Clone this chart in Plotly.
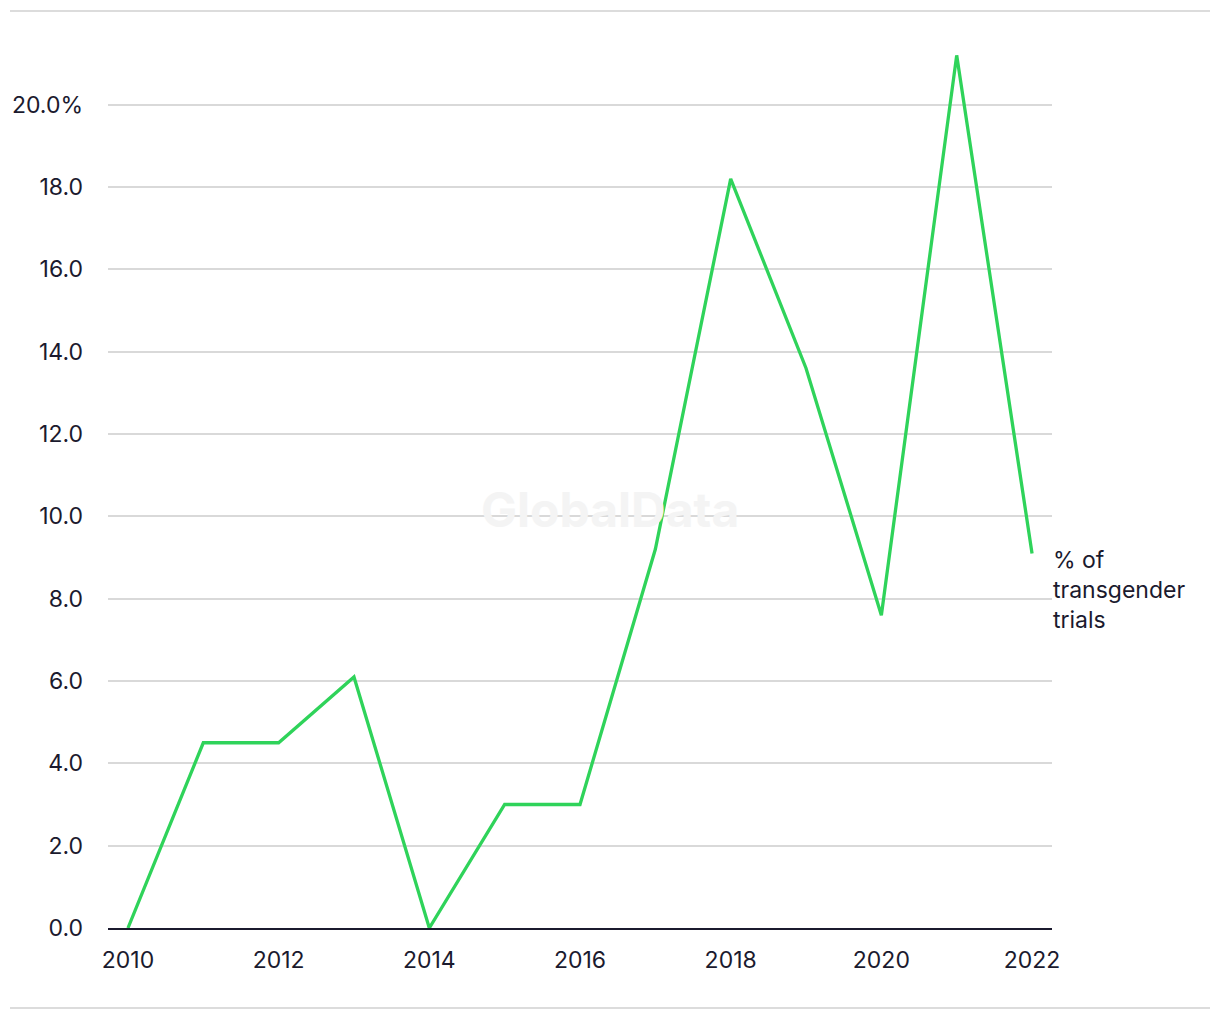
import plotly.graph_objects as go

years = [2010, 2011, 2012, 2013, 2014, 2015, 2016, 2017, 2018, 2019, 2020, 2021, 2022]
pct_transgender = [0.0, 4.5, 4.5, 6.1, 0.0, 3.0, 3.0, 9.2, 18.2, 13.6, 7.6, 21.2, 9.1]
y_tickvals = [0, 2, 4, 6, 8, 10, 12, 14, 16, 18, 20]
y_ticktext = ["0.0", "2.0", "4.0", "6.0", "8.0", "10.0", "12.0", "14.0", "16.0", "18.0", "20.0%"]
x_tickvals = [2010, 2012, 2014, 2016, 2018, 2020, 2022]
series_label = "% of<br>transgender<br>trials"

TEXT = "#1b1a2e"
FONT = "Inter, Liberation Sans, sans-serif"

fig = go.Figure()
fig.add_trace(go.Scatter(
    x=years, y=pct_transgender, mode="lines",
    line=dict(color="#2fd35a", width=3.3),
    showlegend=False, hoverinfo="skip",
))

fig.update_layout(
    width=1220, height=1020,
    margin=dict(l=108, r=168, t=43, b=92),
    paper_bgcolor="white", plot_bgcolor="white",
    font=dict(family=FONT, size=23, color=TEXT),
    xaxis=dict(
        range=[2009.735, 2022.265], tickvals=x_tickvals,
        showgrid=False, zeroline=False,
        showline=True, linecolor=TEXT, linewidth=2,
        ticks="", ticklabelstandoff=10,
        tickfont=dict(size=23, color=TEXT),
    ),
    yaxis=dict(
        range=[0, 21.5], tickvals=y_tickvals, ticktext=y_ticktext,
        showgrid=True, gridcolor="#d9d9d9", gridwidth=1.5,
        zeroline=False, showline=False, ticks="",
        ticklabelstandoff=24,
        tickfont=dict(size=23, color=TEXT),
    ),
    shapes=[
        dict(type="line", xref="paper", yref="paper", x0=-0.1038, x1=1.1674, y0=1.0362, y1=1.0362,
             line=dict(color="#dcdcdc", width=2)),
        dict(type="line", xref="paper", yref="paper", x0=-0.1038, x1=1.1674, y0=-0.0904, y1=-0.0904,
             line=dict(color="#dcdcdc", width=2)),
    ],
    annotations=[
        dict(text="GlobalData", xref="paper", yref="paper", x=0.532, y=0.473,
             showarrow=False, font=dict(family=FONT, size=48, color="#f4f4f4", weight="bold")),
        dict(text=series_label, xref="paper", yref="y", x=1.0, y=8.22,
             xanchor="left", yanchor="middle", align="left", showarrow=False, xshift=-1,
             font=dict(family=FONT, size=23, color=TEXT)),
    ],
)

fig.write_html("out.html")
